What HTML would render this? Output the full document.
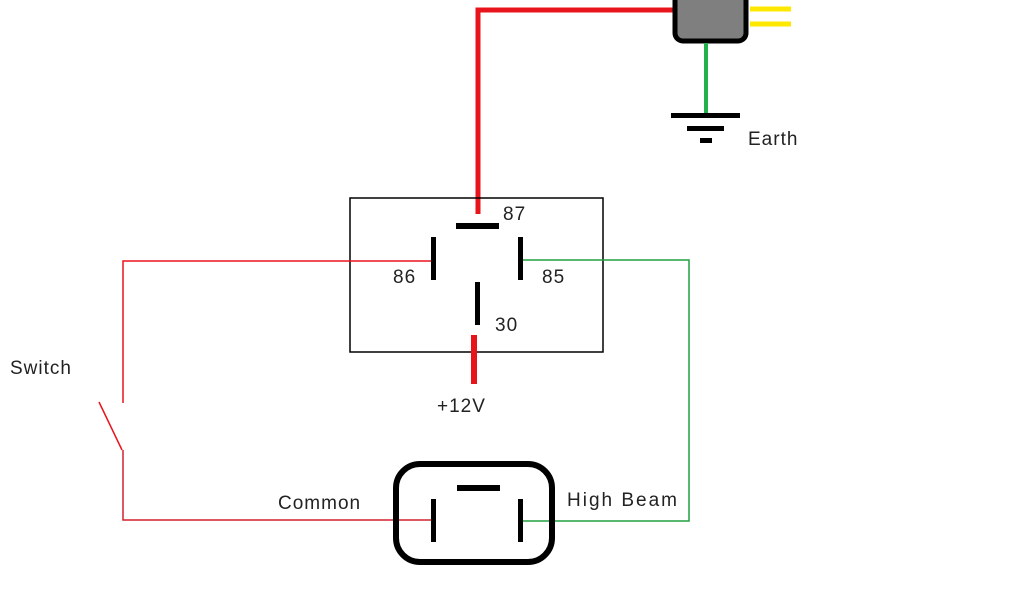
<!DOCTYPE html>
<html><head><meta charset="utf-8"><style>
html,body{margin:0;padding:0;background:#fff;width:1024px;height:600px;overflow:hidden}
text{font-family:"Liberation Sans",sans-serif;font-size:19px;fill:#222;letter-spacing:1px}
</style></head><body>
<svg width="1024" height="600" viewBox="0 0 1024 600" xmlns="http://www.w3.org/2000/svg">
<polyline points="478,214 478,10 676,10" fill="none" stroke="#e8141c" stroke-width="5"/>
<rect x="675" y="-20" width="71" height="61" rx="8" fill="#7f7f7f" stroke="#000" stroke-width="5"/>
<line x1="750" y1="9" x2="791" y2="9" stroke="#ffe800" stroke-width="5"/>
<line x1="750" y1="24" x2="791" y2="24" stroke="#ffe800" stroke-width="5"/>
<line x1="706" y1="43" x2="706" y2="113" stroke="#22b14c" stroke-width="4"/>
<rect x="671" y="113" width="69" height="5" fill="#000"/>
<rect x="687" y="126" width="37" height="5" fill="#000"/>
<rect x="700" y="138" width="12" height="5" fill="#000"/>
<text x="748" y="145">Earth</text>
<rect x="350" y="198" width="253" height="154" fill="none" stroke="#000" stroke-width="1.5"/>
<rect x="456" y="223" width="43" height="6" fill="#000"/>
<rect x="431" y="237" width="5" height="43" fill="#000"/>
<rect x="518" y="237" width="5" height="43" fill="#000"/>
<rect x="475" y="282" width="5" height="43" fill="#000"/>
<line x1="474" y1="335" x2="474" y2="384" stroke="#e8141c" stroke-width="6"/>
<text x="503" y="220">87</text>
<text x="393" y="283">86</text>
<text x="542" y="283">85</text>
<text x="495" y="331">30</text>
<text x="437" y="412">+12V</text>
<text x="10" y="374">Switch</text>
<polyline points="431,261 123,261 123,403" fill="none" stroke="#e8141c" stroke-width="1.5"/>
<line x1="99" y1="402" x2="122" y2="450" stroke="#e8141c" stroke-width="1.5"/>
<polyline points="123,450 123,520 433,520" fill="none" stroke="#d42030" stroke-width="1.5"/>
<polyline points="523,260 689,260 689,521 520,521" fill="none" stroke="#22a040" stroke-width="1.5"/>
<rect x="396" y="464" width="156" height="98" rx="24" fill="none" stroke="#000" stroke-width="6"/>
<rect x="457" y="485" width="43" height="6" fill="#000"/>
<rect x="431" y="499" width="5" height="43" fill="#000"/>
<rect x="518" y="499" width="5" height="43" fill="#000"/>
<text x="278" y="509">Common</text>
<text x="567" y="506" style="letter-spacing:2px">High Beam</text>
</svg>
</body></html>
